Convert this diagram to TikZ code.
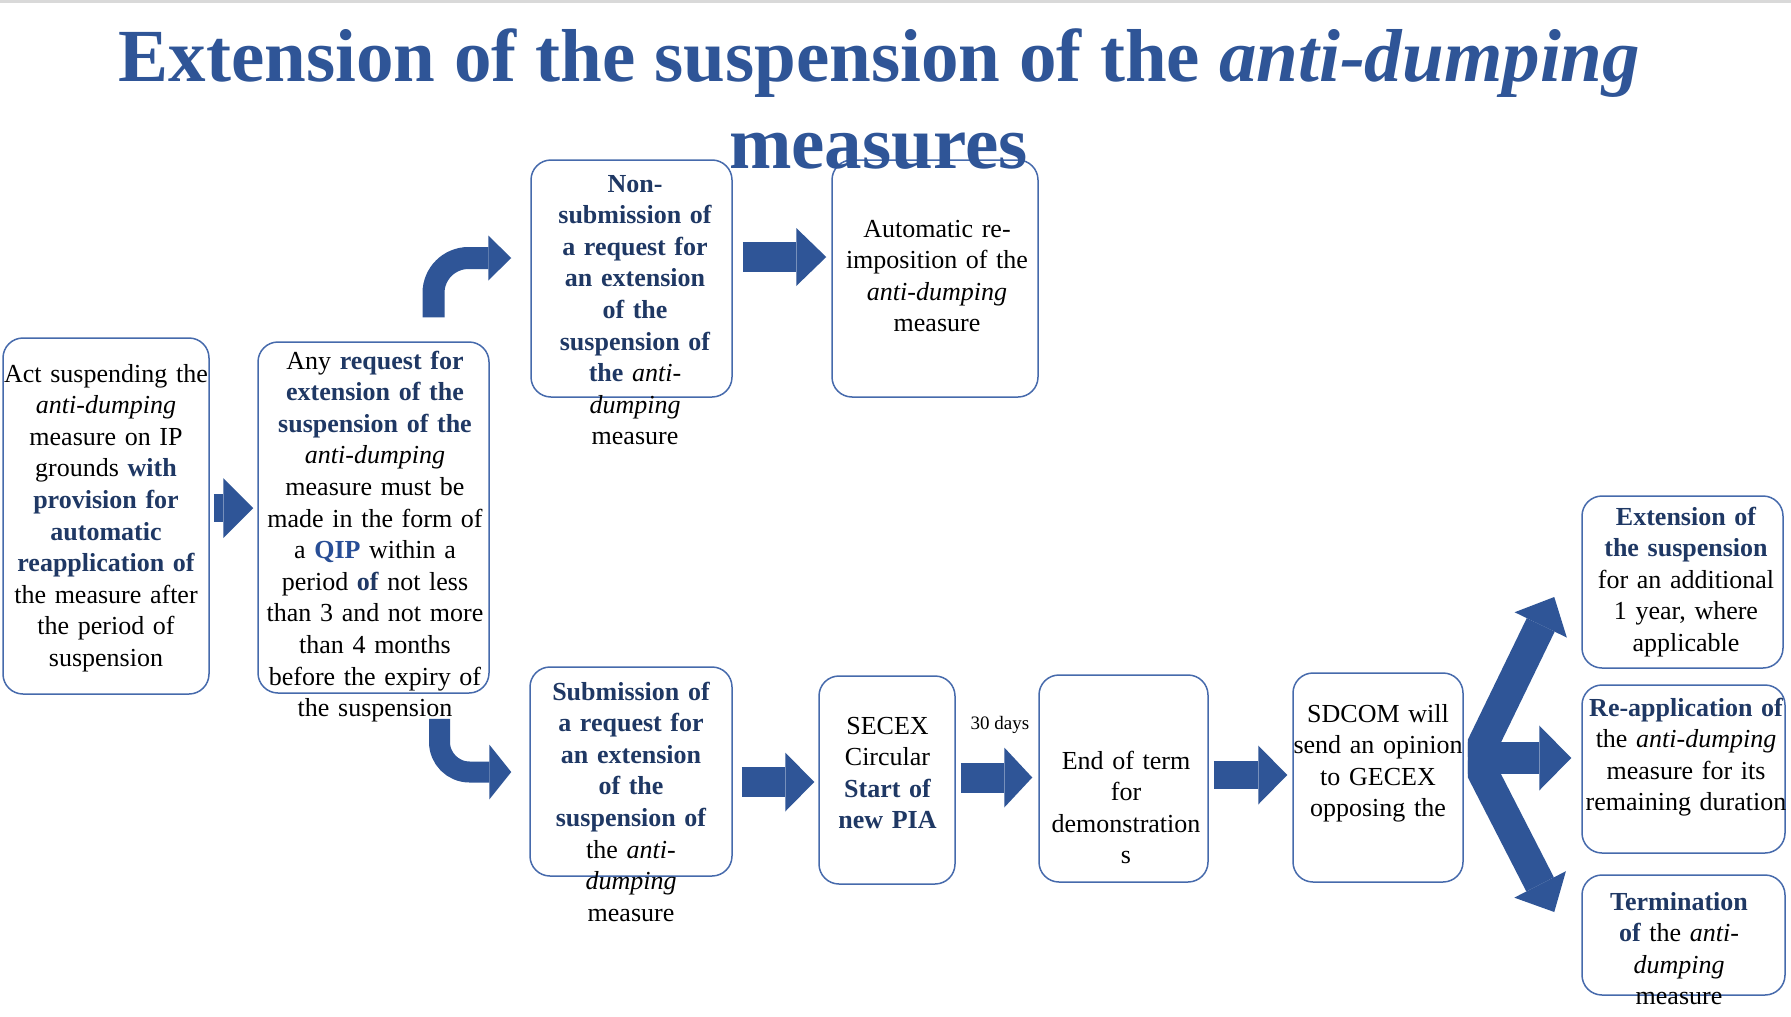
\documentclass[tikz,border=0pt]{standalone}
\usepackage{fontspec}
\setmainfont{Liberation Serif}
\usetikzlibrary{arrows.meta,calc}
\definecolor{ttl}{RGB}{47,85,151}
\definecolor{arr}{RGB}{47,85,151}
\definecolor{brd}{RGB}{70,106,172}
\definecolor{nav}{RGB}{31,56,100}
\definecolor{qip}{RGB}{40,78,150}
\definecolor{topline}{RGB}{217,217,217}
\newcommand{\navb}[1]{\textbf{\color{nav}#1}}
\begin{document}
\begin{tikzpicture}[x=1pt,y=-1pt,
  box/.style={draw=brd, line width=1.5pt, rounded corners=20pt, inner sep=0pt},
  txt/.style={anchor=base, text width=300pt, align=center, inner sep=0pt,
              font=\fontsize{26}{31.6}\selectfont},
  blk/.style={draw=arr, line width=30pt, -{Triangle[length=30pt,width=60pt,line width=0pt]}},
  bent/.style={draw=arr, line width=22pt},
  fork/.style={draw=arr, line width=31pt, -{Triangle[length=31pt,width=58pt,line width=0pt]}}
]
\fill[white] (0,0) rectangle (1791,1017);
\useasboundingbox (0,0) rectangle (1791,1017);
\fill[topline] (0,0) rectangle (1791,2.5);

% boxes
\node[box, minimum width=206pt, minimum height=356pt] (A) at (106,516) {};
\node[box, minimum width=231pt, minimum height=351pt] (B) at (373.5,517.5) {};
\node[box, minimum width=201pt, minimum height=237pt] (C) at (631.5,278.5) {};
\node[box, minimum width=206pt, minimum height=237pt] (D) at (935,278.5) {};
\node[box, minimum width=202pt, minimum height=209pt] (E) at (631,771.5) {};
\node[box, minimum width=136pt, minimum height=208pt] (F) at (887,780) {};
\node[box, minimum width=169pt, minimum height=207pt] (G) at (1123.5,778.5) {};
\node[box, minimum width=170pt, minimum height=209pt] (H) at (1378,777.5) {};
\node[box, minimum width=201pt, minimum height=172pt] (I) at (1682.5,582) {};
\node[box, minimum width=203pt, minimum height=168pt] (J) at (1683.5,769) {};
\node[box, minimum width=203pt, minimum height=120pt] (K) at (1683.5,935) {};

% texts
\node[txt] (tA) at (106,382) {Act suspending the\\\textit{anti-dumping}\\measure on IP\\grounds \navb{with}\\\navb{provision for}\\\navb{automatic}\\\navb{reapplication of}\\the measure after\\the period of\\suspension};
\node[txt] (tB) at (375,369) {Any \navb{request for}\\\navb{extension of the}\\\navb{suspension of the}\\\textit{anti-dumping}\\measure must be\\made in the form of\\a \textbf{\color{qip}QIP} within a\\period \navb{of} not less\\than 3 and not more\\than 4 months\\before the expiry of\\the suspension};
\node[txt] (tC) at (635,192) {\navb{Non-}\\\navb{submission of}\\\navb{a request for}\\\navb{an extension}\\\navb{of the}\\\navb{suspension of}\\\navb{the} \textit{anti-}\\\textit{dumping}\\measure};
\node[txt] (tD) at (937,237) {Automatic re-\\imposition of the\\\textit{anti-dumping}\\measure};
\node[txt] (tE) at (631,700) {\navb{Submission of}\\\navb{a request for}\\\navb{an extension}\\\navb{of the}\\\navb{suspension of}\\the \textit{anti-}\\\textit{dumping}\\measure};
\node[txt] (tF) at (887.5,734) {SECEX\\Circular\\\navb{Start of}\\\navb{new PIA}};
\node[txt] (tG) at (1126,769) {End of term\\for\\demonstration\\s};
\node[txt] (tH) at (1378,722) {SDCOM will\\send an opinion\\to GECEX\\opposing the};
\node[txt] (tI) at (1686,525) {\navb{Extension of}\\\navb{the suspension}\\for an additional\\1 year, where\\applicable};
\node[txt] (tJ) at (1686,716) {\navb{Re-application of}\\the \textit{anti-dumping}\\measure for its\\remaining duration};
\node[txt] (tK) at (1679,910) {\navb{Termination}\\\navb{of} the \textit{anti-}\\\textit{dumping}\\measure};

\node[anchor=base, inner sep=0pt, font=\fontsize{19}{22}\selectfont] (days) at (1000,729.5) {30 days};

% straight block arrows
\draw[blk, line width=28pt] ($(A.east)+(4,-8)$) -- ($(B.west)+(-4,-9.5)$);
\draw[blk, -{Triangle[length=30pt,width=58pt,line width=0pt]}] ($(C.east)+(10,-21.5)$) -- ($(D.west)+(-5,-21.5)$);
\draw[blk, -{Triangle[length=29pt,width=59pt,line width=0pt]}] ($(E.east)+(9,10.5)$) -- ($(F.west)+(-4,2)$);
\draw[blk, -{Triangle[length=28pt,width=60pt,line width=0pt]}] ($(F.east)+(5,-2.5)$) -- ($(G.west)+(-6,-1)$);
\draw[blk, line width=28pt, -{Triangle[length=29pt,width=59pt,line width=0pt]}] ($(G.east)+(5,-3.5)$) -- ($(H.west)+(-5,-2.5)$);

% bent arrows
\draw[bent, rounded corners=35pt, -{Triangle[length=23pt,width=45pt,line width=0pt]}]
  ($(B.north)+(60,-24)$) |- ($(C.west)+(-19,-20.5)$);
\draw[bent, line width=21pt, rounded corners=30pt, -{Triangle[length=22pt,width=55pt,line width=0pt]}]
  ($(B.south)+(66,25)$) |- ($(E.west)+(-18,0.5)$);

% three-way arrow
\begin{scope}
\clip ($(H.east)+(4,-200)$) rectangle ($(H.east)+(200,200)$);
\draw[fork] ($(H.east)+(11.3,-17.2)$) -- ($(I.west)+(-27,15)$);
\draw[fork] ($(H.east)+(11,-20.6)$) -- ($(K.west)+(-27,-23)$);
\draw[fork, line width=32pt, -{Triangle[length=32pt,width=65pt,line width=0pt]}]
  ($(H.east)+(-3,-19.5)$) -- ($(J.west)+(-10,-11)$);
\end{scope}

% title
\node[anchor=base, inner sep=0pt, text=ttl, font=\fontsize{75}{87}\selectfont\bfseries] (t1) at (879.5,81) {Extension of the suspension of the \textit{anti-dumping}};
\node[anchor=base, inner sep=0pt, text=ttl, font=\fontsize{75}{87}\selectfont\bfseries] (t2) at (878.5,168) {measures};
\end{tikzpicture}
\end{document}
